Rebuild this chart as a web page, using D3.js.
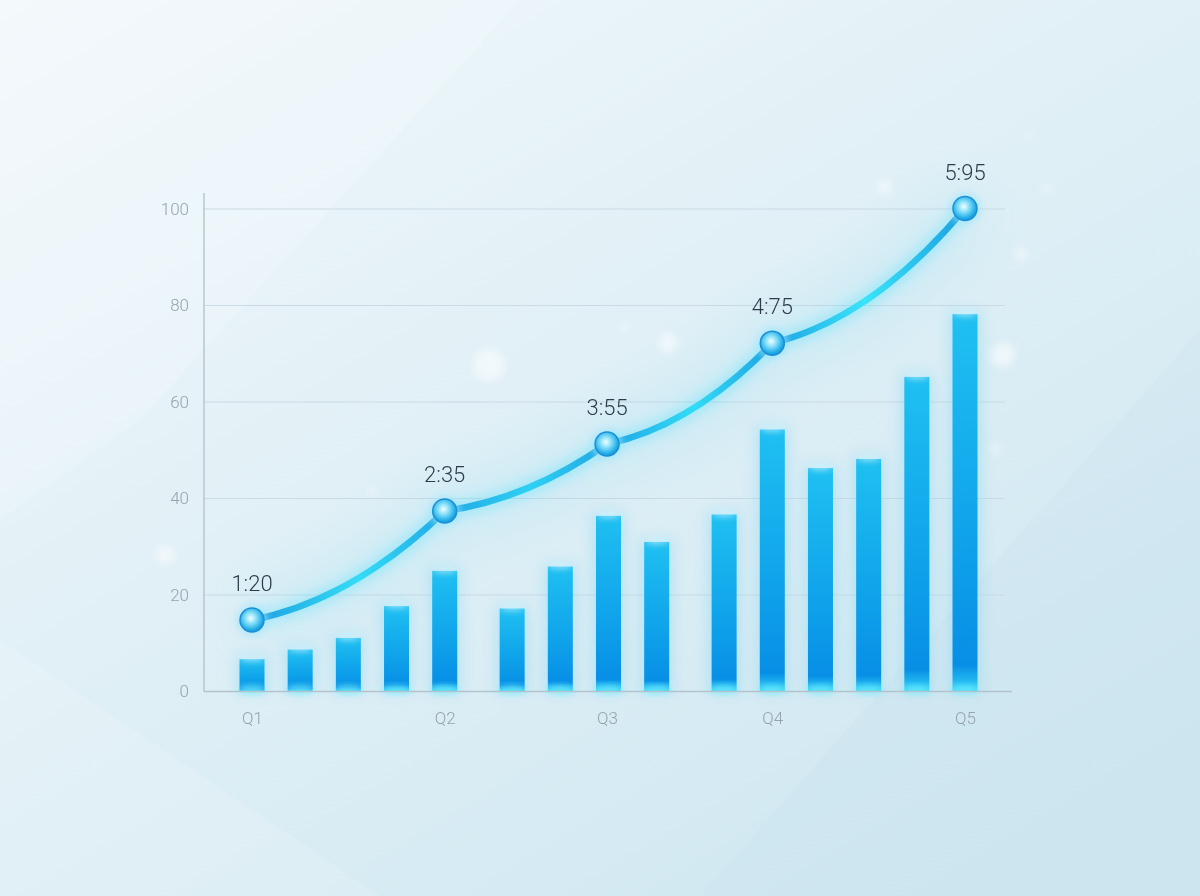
<!DOCTYPE html>
<html>
<head>
<meta charset="utf-8">
<script src="https://cdn.jsdelivr.net/npm/d3@7"></script>
<style>
  html, body { margin: 0; padding: 0; background: #e4f1f6; }
  svg { display: block; }
  .tick-label { font-family: Roboto, "Open Sans", sans-serif; font-weight: 300; fill: #95a3ac; font-size: 17px; }
  .point-label { font-family: Roboto, "Open Sans", sans-serif; font-weight: 300; fill: #2b3c4a; font-size: 22px; }
</style>
</head>
<body>
<div id="chart"></div>
<script>
'use strict';

// bars: position along the period axis + value
const barPos = [0, 1, 2, 3, 4, 5.4, 6.4, 7.4, 8.4, 9.8, 10.8, 11.8, 12.8, 13.8, 14.8];
const barValues = [6.7, 8.7, 11.1, 17.7, 25.0, 17.2, 25.9, 36.4, 31.0, 36.7, 54.3, 46.3, 48.2, 65.2, 78.2];

// trend line
const quarters = ['Q1', 'Q2', 'Q3', 'Q4', 'Q5'];
const quarterPos = [0, 4, 7.37, 10.8, 14.8];
const lineValues = [14.8, 37.4, 51.3, 72.2, 100.1];
const pointLabels = ['1:20', '2:35', '3:55', '4:75', '5:95'];

const yTicks = [0, 20, 40, 60, 80, 100];

const width = 1200, height = 896;
const margin = { top: 209, right: 235, bottom: 204.5, left: 252 };

const svg = d3.select('#chart').append('svg')
  .attr('width', width)
  .attr('height', height);

const defs = svg.append('defs');

// background
const bg = defs.append('linearGradient').attr('id', 'bg')
  .attr('x1', 0).attr('y1', 0).attr('x2', 0.8).attr('y2', 1);
bg.append('stop').attr('offset', 0).attr('stop-color', '#f2f8fb');
bg.append('stop').attr('offset', 0.4).attr('stop-color', '#e3f1f7');
bg.append('stop').attr('offset', 1).attr('stop-color', '#cfe7f1');

const barGrad = defs.append('linearGradient').attr('id', 'barGrad')
  .attr('x1', 0).attr('y1', 0).attr('x2', 0).attr('y2', 1);
barGrad.append('stop').attr('offset', 0).attr('stop-color', '#1fc0f2');
barGrad.append('stop').attr('offset', 0.6).attr('stop-color', '#0fa2ea');
barGrad.append('stop').attr('offset', 0.93).attr('stop-color', '#078fe6');
barGrad.append('stop').attr('offset', 1).attr('stop-color', '#35d2f7');

const dotGrad = defs.append('radialGradient').attr('id', 'dotGrad')
  .attr('cx', 0.45).attr('cy', 0.42).attr('r', 0.6);
dotGrad.append('stop').attr('offset', 0).attr('stop-color', '#f2fdff');
dotGrad.append('stop').attr('offset', 0.35).attr('stop-color', '#8fe3fa');
dotGrad.append('stop').attr('offset', 0.8).attr('stop-color', '#22aee8');
dotGrad.append('stop').attr('offset', 1).attr('stop-color', '#1a8fd4');

const blur = (id, s) => defs.append('filter').attr('id', id)
  .attr('x', '-50%').attr('y', '-50%').attr('width', '200%').attr('height', '200%')
  .append('feGaussianBlur').attr('stdDeviation', s);
blur('glow', 7);
blur('soft', 3);
blur('haze', 30);
blur('dust', 4);

svg.append('rect').attr('width', width).attr('height', height).attr('fill', 'url(#bg)');

// faint light facets in the background
const deco = svg.append('g').attr('opacity', 0.35);
deco.append('path').attr('d', 'M0,0 L520,0 L140,420 L0,520 Z').attr('fill', '#ffffff').attr('opacity', 0.5);
deco.append('path').attr('d', 'M700,896 L1200,330 L1200,896 Z').attr('fill', '#c4e0ec').attr('opacity', 0.5);
deco.append('path').attr('d', 'M0,896 L0,640 L380,896 Z').attr('fill', '#ffffff').attr('opacity', 0.4);

// bokeh
const bokeh = [[885, 187, 7], [1047, 189, 4], [1021, 254, 6], [1003, 355, 12], [489, 365, 16], [625, 328, 4],
  [668, 343, 10], [995, 449, 5], [372, 491, 4], [165, 555, 9], [315, 543, 3], [1030, 135, 3]];
svg.append('g').attr('filter', 'url(#dust)').selectAll('circle').data(bokeh).enter().append('circle')
  .attr('cx', d => d[0]).attr('cy', d => d[1]).attr('r', d => d[2])
  .attr('fill', '#ffffff').attr('opacity', 0.55);

const innerW = width - margin.left - margin.right;
const innerH = height - margin.top - margin.bottom;

const x = d3.scaleLinear().domain([0, 14.8]).range([margin.left, margin.left + innerW]);
const y = d3.scaleLinear().domain([0, 100]).range([margin.top + innerH, margin.top]);

const axisX0 = 204;
const barW = 25;

// grid
const grid = svg.append('g');
grid.selectAll('line').data(yTicks.filter(d => d > 0)).enter()
  .append('line')
  .attr('x1', axisX0).attr('x2', 1005)
  .attr('y1', d => y(d)).attr('y2', d => y(d))
  .attr('stroke', '#cbdae3').attr('stroke-width', 1.2);

// axes
const yAxis = d3.axisLeft(y).tickValues(yTicks).tickSize(0).tickPadding(15);
const gy = svg.append('g').attr('transform', `translate(${axisX0},0)`).call(yAxis);
gy.select('.domain').remove();
gy.selectAll('text').attr('class', 'tick-label').attr('fill', null).attr('font-family', null).attr('font-size', null);
svg.append('line').attr('x1', axisX0).attr('x2', axisX0).attr('y1', 193).attr('y2', y(0))
  .attr('stroke', '#b9c6ce').attr('stroke-width', 1.5);

const xAxis = d3.axisBottom(x).tickValues(quarterPos).tickFormat((d, i) => quarters[i]).tickSize(0).tickPadding(20);
const gx = svg.append('g').attr('transform', `translate(0,${y(0)})`).call(xAxis);
gx.select('.domain').remove();
gx.selectAll('text').attr('class', 'tick-label').attr('fill', null).attr('font-family', null).attr('font-size', null);

// bars
const bars = barPos.map((p, i) => ({ p: p, v: barValues[i] }));

svg.append('g').attr('filter', 'url(#glow)').attr('opacity', 0.45)
  .selectAll('rect').data(bars).enter().append('rect')
  .attr('x', d => x(d.p) - barW / 2 - 3)
  .attr('y', d => y(d.v) - 3)
  .attr('width', barW + 6)
  .attr('height', d => y(0) - y(d.v) + 3)
  .attr('fill', '#7fd8f6');

svg.append('g').selectAll('rect').data(bars).enter().append('rect')
  .attr('x', d => x(d.p) - barW / 2)
  .attr('y', d => y(d.v))
  .attr('width', barW)
  .attr('height', d => y(0) - y(d.v))
  .attr('fill', 'url(#barGrad)');

// top highlight + bottom glow
svg.append('g').attr('filter', 'url(#soft)').selectAll('ellipse').data(bars).enter().append('ellipse')
  .attr('cx', d => x(d.p)).attr('cy', y(0) - 2)
  .attr('rx', 15).attr('ry', 4)
  .attr('fill', '#6ff0ff').attr('opacity', 0.8);
svg.append('g').attr('filter', 'url(#soft)').selectAll('ellipse').data(bars).enter().append('ellipse')
  .attr('cx', d => x(d.p)).attr('cy', d => y(d.v) - 1)
  .attr('rx', 12).attr('ry', 3)
  .attr('fill', '#d8f8ff').attr('opacity', 0.7);

// x axis line
svg.append('line').attr('x1', axisX0).attr('x2', 1012).attr('y1', y(0)).attr('y2', y(0))
  .attr('stroke', '#b3c3cc').attr('stroke-width', 1.5);

// trend line: each segment leaves a point gently and arrives steeper
function curveLean(context) {
  let prev = null;
  return {
    areaStart() {}, areaEnd() {},
    lineStart() { prev = null; },
    lineEnd() {},
    point(px, py) {
      if (!prev) {
        context.moveTo(px, py);
      } else {
        const dx = px - prev[0];
        const m = (py - prev[1]) / dx;
        context.bezierCurveTo(prev[0] + dx / 3, prev[1] + 0.35 * m * dx / 3,
          px - dx / 3, py - 1.7 * m * dx / 3, px, py);
      }
      prev = [px, py];
    }
  };
}

const pts = quarterPos.map((p, i) => ({ p: p, v: lineValues[i], label: pointLabels[i] }));
const line = d3.line().x(d => x(d.p)).y(d => y(d.v)).curve(curveLean);

const lineGrad = defs.append('linearGradient').attr('id', 'lineGrad')
  .attr('gradientUnits', 'userSpaceOnUse')
  .attr('x1', x(0)).attr('x2', x(14.8)).attr('y1', 0).attr('y2', 0);
[[0, '#1d9fe0'], [0.15, '#35dcf6'], [0.27, '#1fa8e6'], [0.39, '#2fd0f3'], [0.5, '#1fa6e4'],
 [0.62, '#33dcf6'], [0.73, '#1ea2e2'], [0.86, '#3ae4f9'], [1, '#1c9fe0']]
  .forEach(s => lineGrad.append('stop').attr('offset', s[0]).attr('stop-color', s[1]));

svg.append('path').datum(pts).attr('d', line)
  .attr('fill', 'none').attr('stroke', '#5cd6f7').attr('stroke-width', 20)
  .attr('opacity', 0.4).attr('filter', 'url(#haze)');
svg.append('path').datum(pts).attr('d', line)
  .attr('fill', 'none').attr('stroke', '#5ee4fa').attr('stroke-width', 11)
  .attr('opacity', 0.55).attr('filter', 'url(#glow)');
svg.append('path').datum(pts).attr('d', line)
  .attr('fill', 'none').attr('stroke', 'url(#lineGrad)').attr('stroke-width', 6.5)
  .attr('stroke-linecap', 'round');

// points
const nodes = svg.append('g').selectAll('g').data(pts).enter().append('g')
  .attr('transform', d => `translate(${x(d.p)},${y(d.v)})`);
nodes.append('circle').attr('r', 16).attr('fill', '#9fe6fb').attr('opacity', 0.6).attr('filter', 'url(#soft)');
nodes.append('circle').attr('r', 12).attr('fill', 'url(#dotGrad)')
  .attr('stroke', '#1b90d6').attr('stroke-width', 1.5);

nodes.append('text').attr('class', 'point-label')
  .attr('text-anchor', 'middle')
  .attr('y', -29)
  .text(d => d.label);
</script>
</body>
</html>
